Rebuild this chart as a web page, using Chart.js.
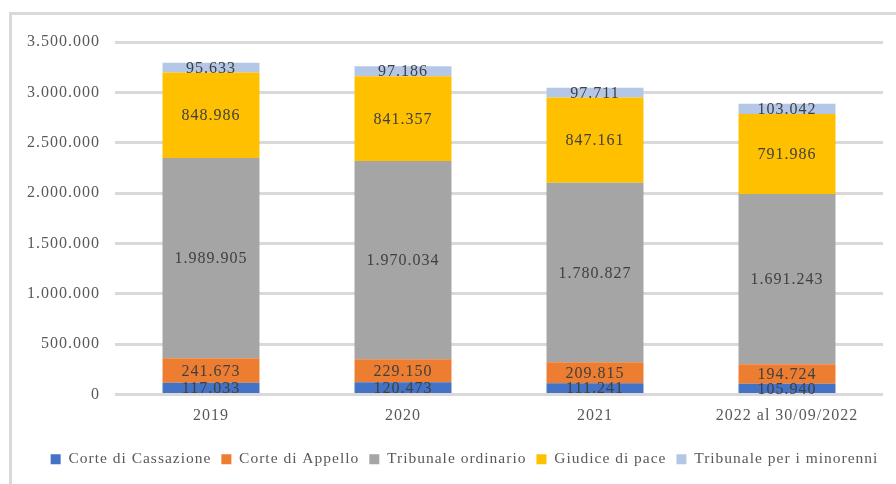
<!DOCTYPE html>
<html>
<head>
<meta charset="utf-8">
<script src="https://cdn.jsdelivr.net/npm/chart.js@4/dist/chart.umd.min.js"></script>
<style>
  html, body { margin: 0; padding: 0; background: #fff; }
  #wrap { position: relative; width: 896px; height: 484px; }
</style>
</head>
<body>
<div id="wrap"><canvas id="c" width="896" height="484"></canvas></div>
<script>
const categories = ['2019', '2020', '2021', '2022 al 30/09/2022'];
const seriesNames = ['Corte di Cassazione', 'Corte di Appello', 'Tribunale ordinario', 'Giudice di pace', 'Tribunale per i minorenni'];
const corteCassazione = [117033, 120473, 111241, 105940];
const corteAppello = [241673, 229150, 209815, 194724];
const tribunaleOrdinario = [1989905, 1970034, 1780827, 1691243];
const giudicePace = [848986, 841357, 847161, 791986];
const tribunaleMinorenni = [95633, 97186, 97711, 103042];
const yTicks = [0, 500000, 1000000, 1500000, 2000000, 2500000, 3000000, 3500000];

const seriesValues = [corteCassazione, corteAppello, tribunaleOrdinario, giudicePace, tribunaleMinorenni];
const seriesColors = ['#4472C4', '#ED7D31', '#A5A5A5', '#FFC000', '#B4C7E7'];

const FONT = '"Liberation Serif", "Times New Roman", serif';
function fmt(v) { return String(v).replace(/\B(?=(\d{3})+(?!\d))/g, '.'); }

const spacingPlugin = {
  id: 'spacing',
  beforeLayout(chart) { chart.ctx.letterSpacing = '1px'; },
  beforeDraw(chart) {
    const ctx = chart.ctx;
    ctx.letterSpacing = '1px';
    ctx.save();
    ctx.fillStyle = '#ffffff';
    ctx.fillRect(0, 0, chart.width, chart.height);
    ctx.fillStyle = '#D9D9D9';
    ctx.fillRect(9, 12, chart.width - 9, 3);
    ctx.fillRect(9, 12, 3, chart.height - 12);
    ctx.restore();
  },
  afterLayout(chart) {
    const lg = chart.legend;
    if (lg) { lg.left += 18; lg.right += 18; }
  }
};

const labelPlugin = {
  id: 'segLabels',
  afterDatasetsDraw(chart) {
    const ctx = chart.ctx;
    ctx.save();
    ctx.letterSpacing = '1px';
    ctx.font = '16px ' + FONT;
    ctx.fillStyle = '#404040';
    ctx.textAlign = 'center';
    ctx.textBaseline = 'middle';
    chart.data.datasets.forEach((ds, di) => {
      const meta = chart.getDatasetMeta(di);
      meta.data.forEach((el, i) => {
        const p = el.getProps(['x', 'y', 'base'], true);
        ctx.fillText(fmt(ds.data[i]), p.x, (p.y + p.base) / 2 + 1);
      });
    });
    ctx.restore();
  }
};

new Chart(document.getElementById('c'), {
  type: 'bar',
  data: {
    labels: categories,
    datasets: seriesNames.map((n, i) => ({
      label: n,
      data: seriesValues[i],
      backgroundColor: seriesColors[i],
      borderWidth: 0,
      categoryPercentage: 1,
      barPercentage: 0.505
    }))
  },
  options: {
    responsive: false,
    animation: false,
    devicePixelRatio: 1,
    layout: { padding: { left: 10, right: 13, top: 42, bottom: 7 } },
    scales: {
      x: {
        stacked: true,
        grid: { display: false, drawTicks: false },
        border: { display: false },
        ticks: { color: '#595959', font: { family: FONT, size: 16 }, padding: 12, maxRotation: 0 },
        afterFit(s) { s.height = 47; }
      },
      y: {
        stacked: true,
        min: 0,
        max: 3500000,
        afterBuildTicks(s) { s.ticks = yTicks.map(v => ({ value: v })); },
        grid: { color: '#D9D9D9', lineWidth: 3, drawTicks: false },
        border: { display: false },
        ticks: { color: '#595959', font: { family: FONT, size: 16 }, padding: 15, callback: v => fmt(v) },
        afterFit(s) { s.width = 105; }
      }
    },
    plugins: {
      legend: {
        position: 'bottom',
        labels: { color: '#595959', font: { family: FONT, size: 15.5 }, boxWidth: 10, boxHeight: 10, padding: 10 }
      },
      tooltip: { enabled: false }
    }
  },
  plugins: [spacingPlugin, labelPlugin]
});
</script>
</body>
</html>
